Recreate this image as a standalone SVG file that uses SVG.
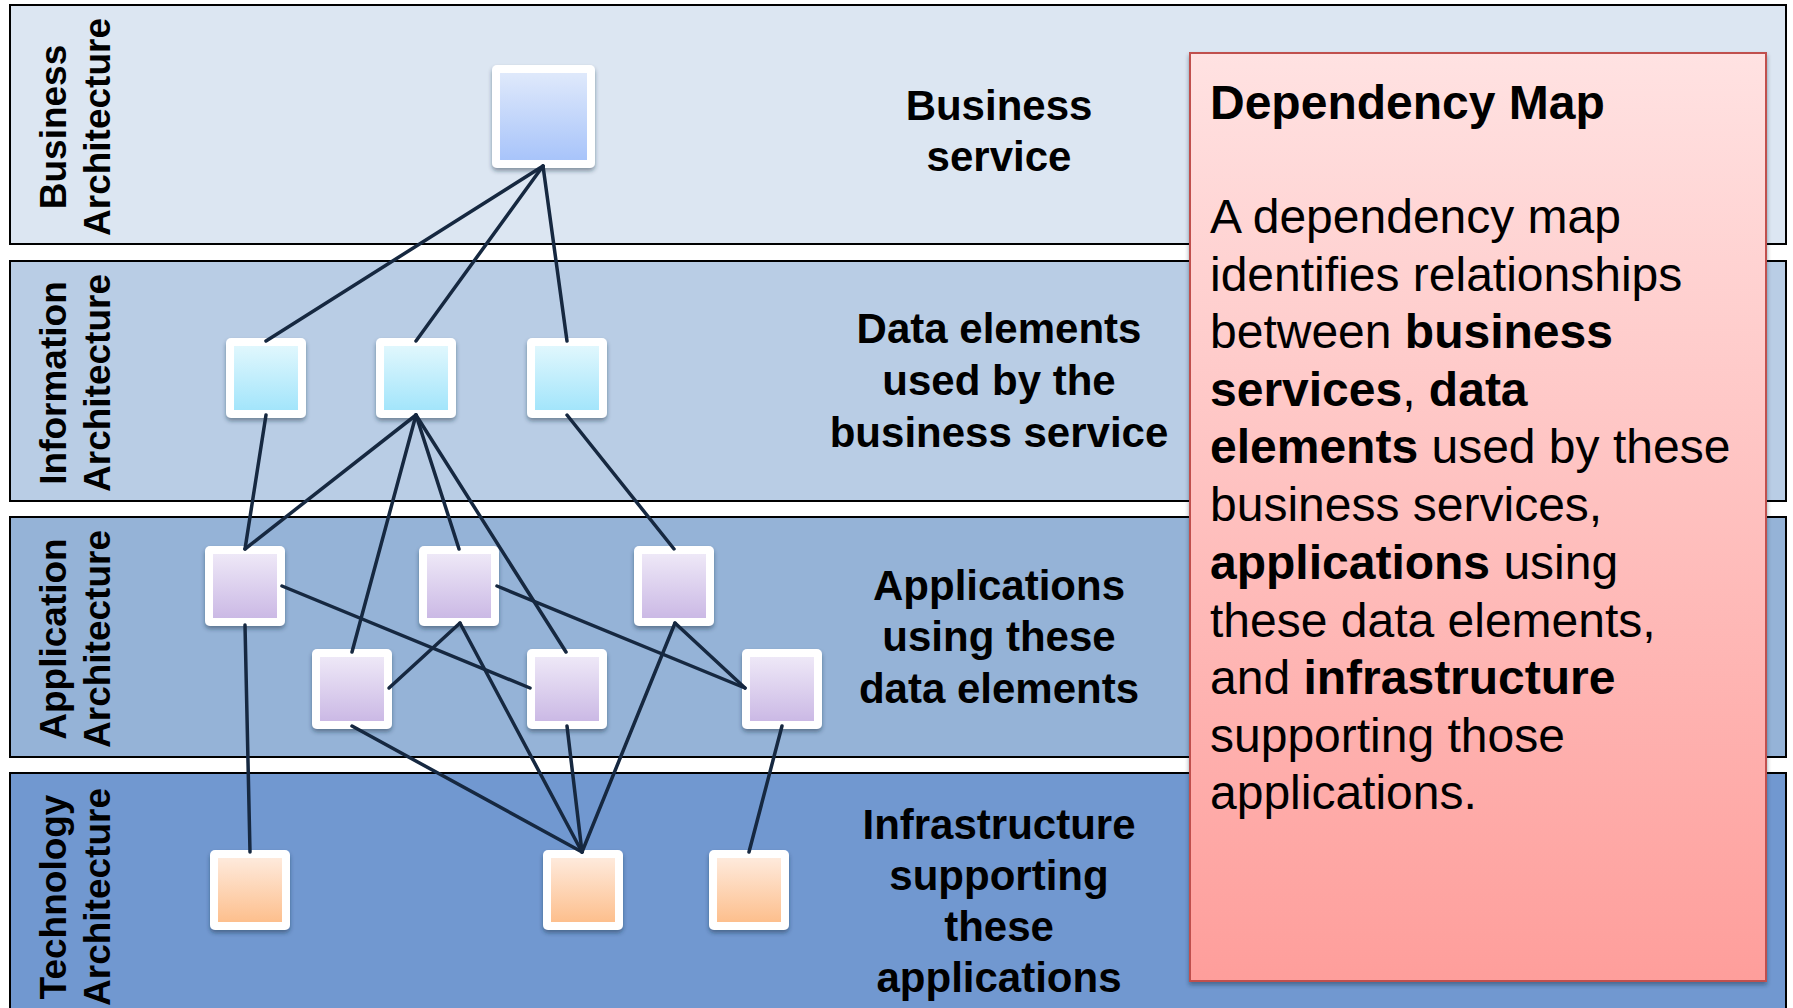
<svg xmlns="http://www.w3.org/2000/svg" width="1793" height="1008" viewBox="0 0 1793 1008">
  <defs>
    <linearGradient id="gBiz" x1="0" y1="0" x2="0" y2="1">
      <stop offset="0" stop-color="#dfe9fb"/>
      <stop offset="1" stop-color="#a8c4fa"/>
    </linearGradient>
    <linearGradient id="gInfo" x1="0" y1="0" x2="0" y2="1">
      <stop offset="0" stop-color="#e0f7fd"/>
      <stop offset="1" stop-color="#a3e5fb"/>
    </linearGradient>
    <linearGradient id="gApp" x1="0" y1="0" x2="0" y2="1">
      <stop offset="0" stop-color="#eee8f7"/>
      <stop offset="1" stop-color="#cbb9e5"/>
    </linearGradient>
    <linearGradient id="gTech" x1="0" y1="0" x2="0" y2="1">
      <stop offset="0" stop-color="#feeadc"/>
      <stop offset="1" stop-color="#fdbf8d"/>
    </linearGradient>
    <linearGradient id="gNote" x1="0" y1="0" x2="0" y2="1">
      <stop offset="0" stop-color="#ffe2e2"/>
      <stop offset="1" stop-color="#fe9e9b"/>
    </linearGradient>
    <filter id="shadow" x="-20%" y="-20%" width="140%" height="150%">
      <feDropShadow dx="0" dy="3" stdDeviation="2" flood-color="#1a2a40" flood-opacity="0.45"/>
    </filter>
    <style>
      .band { stroke: #000; stroke-width: 2; }
      .frame { fill: #fff; }
      .layer { font-family: "Liberation Sans", Arial, sans-serif; font-weight: bold; font-size: 37px; fill: #000; text-anchor: middle; }
      .desc { font-family: "Liberation Sans", Arial, sans-serif; font-weight: bold; font-size: 42px; fill: #000; text-anchor: middle; }
      .note { font-family: "Liberation Sans", Arial, sans-serif; font-size: 48px; fill: #000; }
      .b { font-weight: bold; }
      .link { stroke: #162840; stroke-width: 3.5; fill: none; stroke-linecap: round; }
    </style>
  </defs>

  <rect width="1793" height="1008" fill="#ffffff"/>

  <!-- Architecture layers -->
  <g id="band-business">
    <rect class="band" x="10" y="5" width="1776" height="239" fill="#dce6f2"/>
    <text class="layer" transform="translate(66,127) rotate(-90)">Business</text>
    <text class="layer" transform="translate(110,127) rotate(-90)">Architecture</text>
    <text class="desc" x="999" y="120">Business</text>
    <text class="desc" x="999" y="171">service</text>
  </g>
  <g id="band-information">
    <rect class="band" x="10" y="261" width="1776" height="240" fill="#b9cde5"/>
    <text class="layer" transform="translate(66,383) rotate(-90)">Information</text>
    <text class="layer" transform="translate(110,383) rotate(-90)">Architecture</text>
    <text class="desc" x="999" y="343">Data elements</text>
    <text class="desc" x="999" y="395">used by the</text>
    <text class="desc" x="999" y="447">business service</text>
  </g>
  <g id="band-application">
    <rect class="band" x="10" y="517" width="1776" height="240" fill="#95b3d7"/>
    <text class="layer" transform="translate(66,639) rotate(-90)">Application</text>
    <text class="layer" transform="translate(110,639) rotate(-90)">Architecture</text>
    <text class="desc" x="999" y="600">Applications</text>
    <text class="desc" x="999" y="651">using these</text>
    <text class="desc" x="999" y="703">data elements</text>
  </g>
  <g id="band-technology">
    <rect class="band" x="10" y="773" width="1776" height="245" fill="#7198d0"/>
    <text class="layer" transform="translate(66,897) rotate(-90)">Technology</text>
    <text class="layer" transform="translate(110,897) rotate(-90)">Architecture</text>
    <text class="desc" x="999" y="839">Infrastructure</text>
    <text class="desc" x="999" y="890">supporting</text>
    <text class="desc" x="999" y="941">these</text>
    <text class="desc" x="999" y="992">applications</text>
  </g>

  <!-- Nodes: white frame with gradient face -->
  <g id="node-business-service" filter="url(#shadow)">
    <rect class="frame" x="492" y="65" width="103" height="103" rx="5"/>
    <rect x="500" y="73" width="87" height="87" fill="url(#gBiz)"/>
  </g>
  <g id="node-data-1" filter="url(#shadow)">
    <rect class="frame" x="226" y="338" width="80" height="80" rx="5"/>
    <rect x="234" y="346" width="64" height="64" fill="url(#gInfo)"/>
  </g>
  <g id="node-data-2" filter="url(#shadow)">
    <rect class="frame" x="376" y="338" width="80" height="80" rx="5"/>
    <rect x="384" y="346" width="64" height="64" fill="url(#gInfo)"/>
  </g>
  <g id="node-data-3" filter="url(#shadow)">
    <rect class="frame" x="527" y="338" width="80" height="80" rx="5"/>
    <rect x="535" y="346" width="64" height="64" fill="url(#gInfo)"/>
  </g>
  <g id="node-app-1" filter="url(#shadow)">
    <rect class="frame" x="205" y="546" width="80" height="80" rx="5"/>
    <rect x="213" y="554" width="64" height="64" fill="url(#gApp)"/>
  </g>
  <g id="node-app-2" filter="url(#shadow)">
    <rect class="frame" x="419" y="546" width="80" height="80" rx="5"/>
    <rect x="427" y="554" width="64" height="64" fill="url(#gApp)"/>
  </g>
  <g id="node-app-3" filter="url(#shadow)">
    <rect class="frame" x="634" y="546" width="80" height="80" rx="5"/>
    <rect x="642" y="554" width="64" height="64" fill="url(#gApp)"/>
  </g>
  <g id="node-app-4" filter="url(#shadow)">
    <rect class="frame" x="312" y="649" width="80" height="80" rx="5"/>
    <rect x="320" y="657" width="64" height="64" fill="url(#gApp)"/>
  </g>
  <g id="node-app-5" filter="url(#shadow)">
    <rect class="frame" x="527" y="649" width="80" height="80" rx="5"/>
    <rect x="535" y="657" width="64" height="64" fill="url(#gApp)"/>
  </g>
  <g id="node-app-6" filter="url(#shadow)">
    <rect class="frame" x="742" y="649" width="80" height="80" rx="5"/>
    <rect x="750" y="657" width="64" height="64" fill="url(#gApp)"/>
  </g>
  <g id="node-infra-1" filter="url(#shadow)">
    <rect class="frame" x="210" y="850" width="80" height="80" rx="5"/>
    <rect x="218" y="858" width="64" height="64" fill="url(#gTech)"/>
  </g>
  <g id="node-infra-2" filter="url(#shadow)">
    <rect class="frame" x="543" y="850" width="80" height="80" rx="5"/>
    <rect x="551" y="858" width="64" height="64" fill="url(#gTech)"/>
  </g>
  <g id="node-infra-3" filter="url(#shadow)">
    <rect class="frame" x="709" y="850" width="80" height="80" rx="5"/>
    <rect x="717" y="858" width="64" height="64" fill="url(#gTech)"/>
  </g>

  <!-- Dependencies -->
  <g id="connectors">
    <line class="link" x1="543" y1="166" x2="266" y2="341"/>
    <line class="link" x1="543" y1="166" x2="416" y2="341"/>
    <line class="link" x1="543" y1="166" x2="567" y2="341"/>
    <line class="link" x1="266" y1="415" x2="245" y2="549"/>
    <line class="link" x1="416" y1="415" x2="245" y2="549"/>
    <line class="link" x1="416" y1="415" x2="352" y2="652"/>
    <line class="link" x1="416" y1="415" x2="459" y2="549"/>
    <line class="link" x1="416" y1="415" x2="566" y2="652"/>
    <line class="link" x1="567" y1="415" x2="674" y2="549"/>
    <line class="link" x1="282" y1="586" x2="530" y2="688"/>
    <line class="link" x1="497" y1="586" x2="745" y2="688"/>
    <line class="link" x1="460" y1="623" x2="389" y2="688"/>
    <line class="link" x1="460" y1="623" x2="582" y2="852"/>
    <line class="link" x1="675" y1="623" x2="745" y2="688"/>
    <line class="link" x1="675" y1="623" x2="582" y2="852"/>
    <line class="link" x1="245" y1="625" x2="250" y2="852"/>
    <line class="link" x1="352" y1="726" x2="582" y2="852"/>
    <line class="link" x1="567" y1="726" x2="582" y2="852"/>
    <line class="link" x1="782" y1="726" x2="749" y2="852"/>
  </g>

  <!-- Explanation panel -->
  <g id="note-dependency-map">
    <rect x="1190" y="53" width="576" height="928" fill="url(#gNote)" stroke="#c0504d" stroke-width="2" filter="url(#shadow)"/>
    <text class="note" x="1210">
      <tspan class="b" x="1210" y="119">Dependency Map</tspan>
      <tspan x="1210" y="233">A dependency map</tspan>
      <tspan x="1210" y="290.6">identifies relationships</tspan>
      <tspan x="1210" y="348">between <tspan class="b">business</tspan></tspan>
      <tspan x="1210" y="405.6"><tspan class="b">services</tspan>, <tspan class="b">data</tspan></tspan>
      <tspan x="1210" y="463"><tspan class="b">elements</tspan> used by these</tspan>
      <tspan x="1210" y="521">business services,</tspan>
      <tspan x="1210" y="579"><tspan class="b">applications</tspan> using</tspan>
      <tspan x="1210" y="636.5">these data elements,</tspan>
      <tspan x="1210" y="694">and <tspan class="b">infrastructure</tspan></tspan>
      <tspan x="1210" y="751.5">supporting those</tspan>
      <tspan x="1210" y="809">applications.</tspan>
    </text>
  </g>
</svg>
